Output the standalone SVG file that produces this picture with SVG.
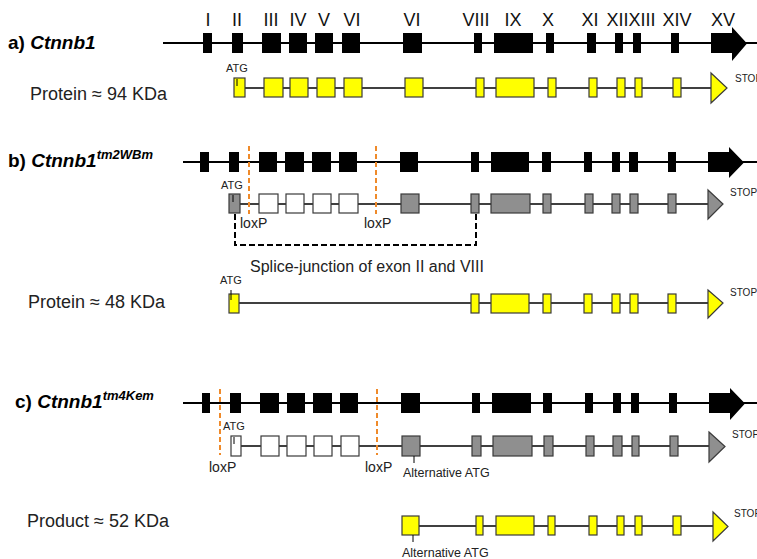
<svg xmlns="http://www.w3.org/2000/svg" width="757" height="559" viewBox="0 0 757 559">
<style>
.bg{fill:#fff}
.ln{stroke:#000;stroke-width:2;fill:none}
.pl{stroke:#000;stroke-width:1.6;fill:none}
.ex{fill:#000}
.y{fill:#ffff00;stroke:#3a3a3a;stroke-width:1.2}
.g{fill:#8f8f8f;stroke:#3a3a3a;stroke-width:1.2}
.w{fill:#fff;stroke:#3a3a3a;stroke-width:1.2}
.lox{stroke:#ef8a2a;stroke-width:2;stroke-dasharray:5,3;fill:none}
.sj{stroke:#000;stroke-width:2;stroke-dasharray:6,3;fill:none}
.tick{stroke:#000;stroke-width:1}
.t{font-family:"Liberation Sans",Arial,sans-serif;fill:#222}
.rn{font-family:"Liberation Sans",Arial,sans-serif;font-size:18px;fill:#111;text-anchor:middle}
.ttl{font-family:"Liberation Sans",Arial,sans-serif;font-weight:bold;font-size:19px;fill:#000}
.kda{font-size:18px}
.atg{font-size:11px}
.stop{font-size:10px}
.lx{font-size:14px}
.alt{font-size:12.5px}
</style>
<rect class="bg" x="0" y="0" width="757" height="559"/>

<g id="labels-roman">
<text class="rn" x="208" y="26">I</text>
<text class="rn" x="237" y="26">II</text>
<text class="rn" x="271" y="26">III</text>
<text class="rn" x="298" y="26">IV</text>
<text class="rn" x="324" y="26">V</text>
<text class="rn" x="352" y="26">VI</text>
<text class="rn" x="412" y="26">VI</text>
<text class="rn" x="476" y="26">VIII</text>
<text class="rn" x="513" y="26">IX</text>
<text class="rn" x="548" y="26">X</text>
<text class="rn" x="590" y="26">XI</text>
<text class="rn" x="631" y="26">XIIXIII</text>
<text class="rn" x="677" y="26">XIV</text>
<text class="rn" x="723" y="26">XV</text>
</g>

<g id="connectors">
<line class="ln" x1="163" y1="43" x2="757" y2="43"/>
<line class="pl" x1="245" y1="88" x2="711" y2="88"/>
<line class="ln" x1="183" y1="162" x2="757" y2="162"/>
<line class="pl" x1="240" y1="204" x2="708" y2="204"/>
<line class="pl" x1="239" y1="303" x2="708" y2="303"/>
<line class="ln" x1="183" y1="403" x2="757" y2="403"/>
<line class="pl" x1="241" y1="446" x2="709" y2="446"/>
<line class="pl" x1="419" y1="526" x2="713" y2="526"/>
<path class="sj" d="M235,214 V245 H476 V214"/>
</g>

<g id="a-title">
<text class="ttl" x="8" y="49">a) <tspan font-style="italic">Ctnnb1</tspan></text>
<text class="t kda" x="30" y="100">Protein ≈ 94 KDa</text>
</g>

<g id="a-genomic">
<rect class="ex" x="203" y="33" width="9" height="20"/>
<rect class="ex" x="232" y="33" width="11" height="20"/>
<rect class="ex" x="262" y="33" width="19" height="20"/>
<rect class="ex" x="289" y="33" width="18" height="20"/>
<rect class="ex" x="315" y="33" width="18" height="20"/>
<rect class="ex" x="342" y="33" width="18" height="20"/>
<rect class="ex" x="403" y="33" width="19" height="20"/>
<rect class="ex" x="474" y="33" width="8" height="20"/>
<rect class="ex" x="494" y="33" width="39" height="20"/>
<rect class="ex" x="546" y="33" width="8" height="20"/>
<rect class="ex" x="587" y="33" width="9" height="20"/>
<rect class="ex" x="615" y="33" width="8" height="20"/>
<rect class="ex" x="633" y="33" width="8" height="20"/>
<rect class="ex" x="671" y="33" width="8" height="20"/>
<polygon class="ex" points="711,33 732,33 732,27 747,43.5 732,61 732,53 711,53"/>
</g>

<g id="a-protein">
<text class="t atg" x="226" y="72">ATG</text>
<rect class="y" x="234" y="78" width="11" height="19"/>
<line class="tick" x1="237" y1="79" x2="237" y2="86"/>
<rect class="y" x="264" y="78" width="19" height="19"/>
<rect class="y" x="290" y="78" width="18" height="19"/>
<rect class="y" x="317" y="78" width="18" height="19"/>
<rect class="y" x="344" y="78" width="18" height="19"/>
<rect class="y" x="405" y="78" width="18" height="19"/>
<rect class="y" x="476" y="78" width="8" height="19"/>
<rect class="y" x="496" y="78" width="38" height="19"/>
<rect class="y" x="548" y="78" width="8" height="19"/>
<rect class="y" x="589" y="78" width="8" height="19"/>
<rect class="y" x="617" y="78" width="8" height="19"/>
<rect class="y" x="635" y="78" width="7" height="19"/>
<rect class="y" x="673" y="78" width="8" height="19"/>
<polygon class="y" points="711,73 727,88 711,103"/>
<text class="t stop" x="735" y="82">STOP</text>
</g>

<g id="b-title">
<text class="ttl" x="8" y="167">b) <tspan font-style="italic">Ctnnb1</tspan><tspan font-style="italic" font-size="13" dy="-8">tm2WBm</tspan></text>
</g>

<g id="b-genomic">
<rect class="ex" x="200" y="152" width="9" height="20"/>
<rect class="ex" x="229" y="152" width="10" height="20"/>
<rect class="ex" x="259" y="152" width="18" height="20"/>
<rect class="ex" x="285" y="152" width="19" height="20"/>
<rect class="ex" x="312" y="152" width="19" height="20"/>
<rect class="ex" x="339" y="152" width="18" height="20"/>
<rect class="ex" x="400" y="152" width="18" height="20"/>
<rect class="ex" x="471" y="152" width="8" height="20"/>
<rect class="ex" x="491" y="152" width="38" height="20"/>
<rect class="ex" x="542" y="152" width="9" height="20"/>
<rect class="ex" x="584" y="152" width="8" height="20"/>
<rect class="ex" x="612" y="152" width="8" height="20"/>
<rect class="ex" x="629" y="152" width="9" height="20"/>
<rect class="ex" x="668" y="152" width="8" height="20"/>
<polygon class="ex" points="708,152 729,152 729,147 744,162.5 729,178 729,172 708,172"/>
</g>

<g id="b-loxp">
<line class="lox" x1="249" y1="146" x2="249" y2="214"/>
<line class="lox" x1="376" y1="146" x2="376" y2="214"/>
<text class="t lx" x="240" y="228">loxP</text>
<text class="t lx" x="364" y="228">loxP</text>
</g>

<g id="b-mutant">
<text class="t atg" x="221" y="189">ATG</text>
<rect class="g" x="229" y="194" width="11" height="19"/>
<line class="tick" x1="233" y1="195" x2="233" y2="202"/>
<rect class="w" x="259" y="194" width="19" height="19"/>
<rect class="w" x="286" y="194" width="18" height="19"/>
<rect class="w" x="313" y="194" width="18" height="19"/>
<rect class="w" x="339" y="194" width="19" height="19"/>
<rect class="g" x="401" y="194" width="18" height="19"/>
<rect class="g" x="471" y="194" width="8" height="19"/>
<rect class="g" x="491" y="194" width="39" height="19"/>
<rect class="g" x="543" y="194" width="8" height="19"/>
<rect class="g" x="585" y="194" width="8" height="19"/>
<rect class="g" x="612" y="194" width="8" height="19"/>
<rect class="g" x="630" y="194" width="8" height="19"/>
<rect class="g" x="668" y="194" width="8" height="19"/>
<polygon class="g" points="708,190 723,204 708,219"/>
<text class="t stop" x="730" y="196">STOP</text>
</g>

<g id="b-splice">
<text class="t" font-size="16" x="250" y="272">Splice-junction of exon II and VIII</text>
</g>

<g id="b-protein">
<text class="t kda" x="28" y="308">Protein ≈ 48 KDa</text>
<text class="t atg" x="220" y="284">ATG</text>
<rect class="y" x="229" y="294" width="10" height="19"/>
<line class="tick" x1="231" y1="290" x2="231" y2="300"/>
<rect class="y" x="471" y="294" width="8" height="19"/>
<rect class="y" x="491" y="294" width="38" height="19"/>
<rect class="y" x="543" y="294" width="8" height="19"/>
<rect class="y" x="584" y="294" width="8" height="19"/>
<rect class="y" x="612" y="294" width="8" height="19"/>
<rect class="y" x="630" y="294" width="8" height="19"/>
<rect class="y" x="668" y="294" width="8" height="19"/>
<polygon class="y" points="708,290 723,303 708,318"/>
<text class="t stop" x="730" y="296">STOP</text>
</g>

<g id="c-title">
<text class="ttl" x="15" y="408">c) <tspan font-style="italic">Ctnnb1</tspan><tspan font-style="italic" font-size="13" dy="-8">tm4Kem</tspan></text>
</g>

<g id="c-genomic">
<rect class="ex" x="202" y="393" width="8" height="20"/>
<rect class="ex" x="230" y="393" width="11" height="20"/>
<rect class="ex" x="260" y="393" width="19" height="20"/>
<rect class="ex" x="287" y="393" width="18" height="20"/>
<rect class="ex" x="313" y="393" width="19" height="20"/>
<rect class="ex" x="340" y="393" width="18" height="20"/>
<rect class="ex" x="401" y="393" width="19" height="20"/>
<rect class="ex" x="472" y="393" width="8" height="20"/>
<rect class="ex" x="492" y="393" width="39" height="20"/>
<rect class="ex" x="543" y="393" width="9" height="20"/>
<rect class="ex" x="585" y="393" width="8" height="20"/>
<rect class="ex" x="613" y="393" width="8" height="20"/>
<rect class="ex" x="631" y="393" width="8" height="20"/>
<rect class="ex" x="669" y="393" width="8" height="20"/>
<polygon class="ex" points="709,393 730,393 730,388 745,403.5 730,420 730,413 709,413"/>
</g>

<g id="c-loxp">
<line class="lox" x1="220" y1="389" x2="220" y2="455"/>
<line class="lox" x1="377" y1="389" x2="377" y2="455"/>
<text class="t lx" x="209" y="472">loxP</text>
<text class="t lx" x="365" y="472">loxP</text>
</g>

<g id="c-mutant">
<text class="t atg" x="223" y="430">ATG</text>
<rect class="w" x="231" y="436" width="10" height="20"/>
<line class="tick" x1="234" y1="437" x2="234" y2="444"/>
<rect class="w" x="261" y="436" width="18" height="20"/>
<rect class="w" x="287" y="436" width="19" height="20"/>
<rect class="w" x="314" y="436" width="18" height="20"/>
<rect class="w" x="341" y="436" width="18" height="20"/>
<rect class="g" x="402" y="436" width="18" height="20"/>
<line class="tick" x1="414" y1="456" x2="414" y2="463"/>
<rect class="g" x="472" y="436" width="9" height="20"/>
<rect class="g" x="493" y="436" width="39" height="20"/>
<rect class="g" x="544" y="436" width="9" height="20"/>
<rect class="g" x="586" y="436" width="8" height="20"/>
<rect class="g" x="613" y="436" width="9" height="20"/>
<rect class="g" x="632" y="436" width="7" height="20"/>
<rect class="g" x="670" y="436" width="8" height="20"/>
<polygon class="g" points="709,432 725,446.5 709,462"/>
<text class="t stop" x="732" y="438">STOP</text>
<text class="t alt" x="403" y="477">Alternative ATG</text>
</g>

<g id="c-product">
<text class="t kda" x="27" y="527">Product ≈ 52 KDa</text>
<rect class="y" x="402" y="516" width="17" height="19"/>
<line class="tick" x1="413" y1="535" x2="413" y2="542"/>
<rect class="y" x="476" y="516" width="7" height="19"/>
<rect class="y" x="496" y="516" width="38" height="19"/>
<rect class="y" x="548" y="516" width="7" height="19"/>
<rect class="y" x="589" y="516" width="8" height="19"/>
<rect class="y" x="617" y="516" width="7" height="19"/>
<rect class="y" x="635" y="516" width="7" height="19"/>
<rect class="y" x="673" y="516" width="8" height="19"/>
<polygon class="y" points="713,512 728,526.5 713,541"/>
<text class="t stop" x="734" y="517">STOP</text>
<text class="t alt" x="402" y="557">Alternative ATG</text>
</g>
</svg>
